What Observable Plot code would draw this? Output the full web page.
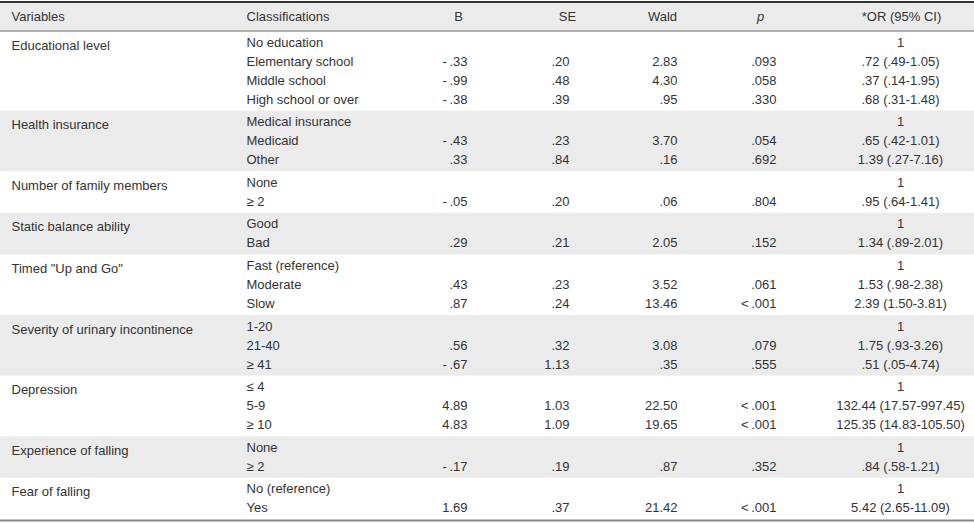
<!DOCTYPE html>
<html>
<head>
<meta charset="utf-8">
<script src="https://cdn.jsdelivr.net/npm/d3@7"></script>
<script src="https://cdn.jsdelivr.net/npm/@observablehq/plot@0.6"></script>
<style>
  html, body { margin: 0; padding: 0; background: #fff; }
  #chart svg { display: block; }
</style>
</head>
<body>
<div id="chart"></div>
<script>
// ---- data ----
const headers = ["Variables", "Classifications", "B", "SE", "Wald", "p", "*OR (95% CI)"];

const variables = [
  "Educational level",
  "Health insurance",
  "Number of family members",
  "Static balance ability",
  "Timed \"Up and Go\"",
  "Severity of urinary incontinence",
  "Depression",
  "Experience of falling",
  "Fear of falling"
];

const classifications = [
  ["No education", "Elementary school", "Middle school", "High school or over"],
  ["Medical insurance", "Medicaid", "Other"],
  ["None", "\u2265 2"],
  ["Good", "Bad"],
  ["Fast (reference)", "Moderate", "Slow"],
  ["1-20", "21-40", "\u2265 41"],
  ["\u2264 4", "5-9", "\u2265 10"],
  ["None", "\u2265 2"],
  ["No (reference)", "Yes"]
];

const B = [
  ["", "-\u2009.33", "-\u2009.99", "-\u2009.38"],
  ["", "-\u2009.43", ".33"],
  ["", "-\u2009.05"],
  ["", ".29"],
  ["", ".43", ".87"],
  ["", ".56", "-\u2009.67"],
  ["", "4.89", "4.83"],
  ["", "-\u2009.17"],
  ["", "1.69"]
];

const SE = [
  ["", ".20", ".48", ".39"],
  ["", ".23", ".84"],
  ["", ".20"],
  ["", ".21"],
  ["", ".23", ".24"],
  ["", ".32", "1.13"],
  ["", "1.03", "1.09"],
  ["", ".19"],
  ["", ".37"]
];

const Wald = [
  ["", "2.83", "4.30", ".95"],
  ["", "3.70", ".16"],
  ["", ".06"],
  ["", "2.05"],
  ["", "3.52", "13.46"],
  ["", "3.08", ".35"],
  ["", "22.50", "19.65"],
  ["", ".87"],
  ["", "21.42"]
];

const P = [
  ["", ".093", ".058", ".330"],
  ["", ".054", ".692"],
  ["", ".804"],
  ["", ".152"],
  ["", ".061", "<\u2009.001"],
  ["", ".079", ".555"],
  ["", "<\u2009.001", "<\u2009.001"],
  ["", ".352"],
  ["", "<\u2009.001"]
];

const OR = [
  ["1", ".72 (.49-1.05)", ".37 (.14-1.95)", ".68 (.31-1.48)"],
  ["1", ".65 (.42-1.01)", "1.39 (.27-7.16)"],
  ["1", ".95 (.64-1.41)"],
  ["1", "1.34 (.89-2.01)"],
  ["1", "1.53 (.98-2.38)", "2.39 (1.50-3.81)"],
  ["1", "1.75 (.93-3.26)", ".51 (.05-4.74)"],
  ["1", "132.44 (17.57-997.45)", "125.35 (14.83-105.50)"],
  ["1", ".84 (.58-1.21)"],
  ["1", "5.42 (2.65-11.09)"]
];

// ---- layout ----
const W = 974, H = 523;
const headerTop = 2, headerBottom = 30.5, bodyTop = 31;
const rowH = 19, padTop = 1.5, padBottom = 2.1;
const colX = {var: 11, cls: 246, B: 467, SE: 569, Wald: 677, p: 776, OR: 900};
const headX = [11, 246, 458, 567, 662, 760, 901];

const groups = [];
const rows = [];
let yCur = bodyTop;
variables.forEach((v, g) => {
  const n = classifications[g].length;
  const h = n * rowH + padTop + padBottom;
  groups.push({g, v, y1: yCur, y2: yCur + h, first: yCur + padTop + rowH / 2});
  classifications[g].forEach((c, i) => {
    rows.push({
      y: yCur + padTop + rowH * i + rowH / 2,
      cls: c, B: B[g][i], SE: SE[g][i], Wald: Wald[g][i], p: P[g][i], OR: OR[g][i]
    });
  });
  yCur += h;
});
const bodyBottom = yCur;

const headerRows = headers.map((h, i) => ({text: h, x: headX[i], i}));
const headY = (headerTop + headerBottom) / 2;

const txt = {fill: "#333", fontSize: 13};

const plot = Plot.plot({
  width: W,
  height: H,
  margin: 0,
  x: {type: "identity", axis: null},
  y: {type: "identity", axis: null},
  style: {fontFamily: "'Liberation Sans', Arial, sans-serif", background: "#fff"},
  marks: [
    Plot.rect([{y1: headerTop, y2: headerBottom}], {x1: 0, x2: W, y1: "y1", y2: "y2", fill: "#ebebeb"}),
    Plot.rect(groups.filter(d => d.g % 2 === 1), {x1: 0, x2: W, y1: "y1", y2: "y2", fill: "#ebebeb"}),
    Plot.ruleY([headerTop - 0.5], {stroke: "#333", strokeWidth: 2}),
    Plot.ruleY([headerBottom], {stroke: "#666", strokeWidth: 1}),
    Plot.ruleY([bodyBottom + 0.5], {stroke: "#888", strokeWidth: 2}),
    // header text
    Plot.text(headerRows.filter(d => d.i < 2), {x: "x", y: () => headY, text: "text", textAnchor: "start", ...txt}),
    Plot.text(headerRows.filter(d => d.i >= 2 && d.text !== "p"), {x: "x", y: () => headY, text: "text", textAnchor: "middle", ...txt}),
    Plot.text(headerRows.filter(d => d.text === "p"), {x: "x", y: () => headY, text: "text", textAnchor: "middle", fontStyle: "italic", ...txt}),
    // body text
    Plot.text(groups, {x: () => colX.var, y: d => d.first + 3, text: "v", textAnchor: "start", ...txt}),
    Plot.text(rows, {x: () => colX.cls, y: "y", text: "cls", textAnchor: "start", ...txt}),
    Plot.text(rows, {x: () => colX.B, y: "y", text: "B", textAnchor: "end", ...txt}),
    Plot.text(rows, {x: () => colX.SE, y: "y", text: "SE", textAnchor: "end", ...txt}),
    Plot.text(rows, {x: () => colX.Wald, y: "y", text: "Wald", textAnchor: "end", ...txt}),
    Plot.text(rows, {x: () => colX.p, y: "y", text: "p", textAnchor: "end", ...txt}),
    Plot.text(rows, {x: () => colX.OR, y: "y", text: "OR", textAnchor: "middle", ...txt})
  ]
});
document.getElementById("chart").appendChild(plot);
</script>
</body>
</html>
